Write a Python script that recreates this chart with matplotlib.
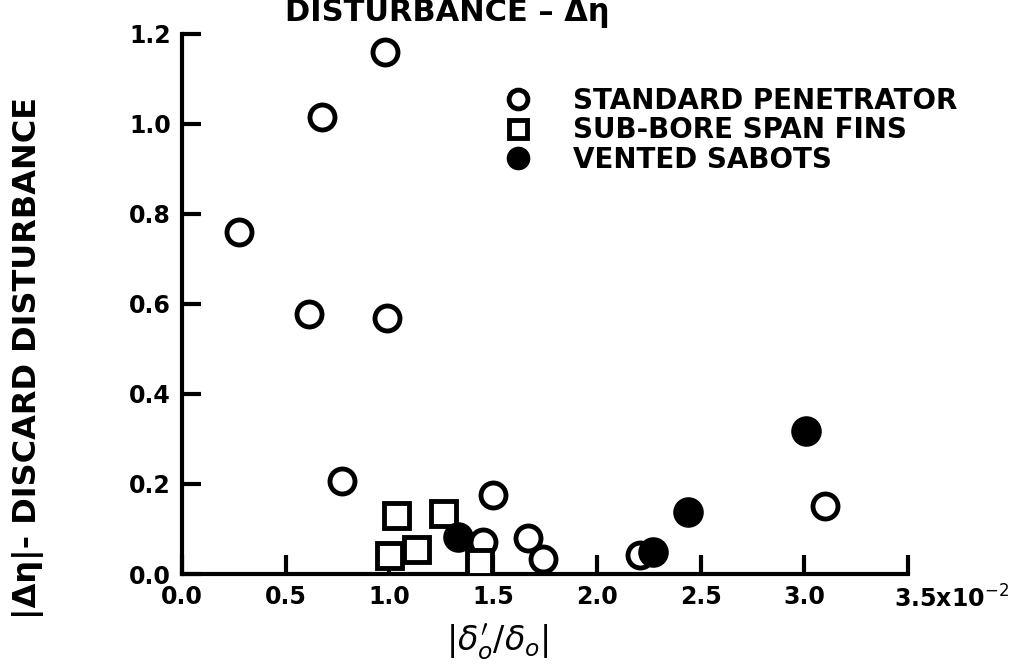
import matplotlib
matplotlib.use("Agg")
import matplotlib.pyplot as plt
from matplotlib.transforms import ScaledTranslation

# |delta0'/delta0| (x 1e-2) vs |delta eta| discard disturbance
std_x = [0.98, 0.675, 0.275, 0.61, 0.99, 0.77, 1.50, 1.45, 1.67, 1.74, 2.21, 3.10]
std_y = [1.16, 1.016, 0.76, 0.578, 0.569, 0.207, 0.176, 0.071, 0.080, 0.033, 0.042, 0.151]

fin_x = [1.03, 1.26, 1.00, 1.13, 1.43]
fin_y = [0.131, 0.136, 0.042, 0.056, 0.027]

vent_x = [1.33, 2.27, 2.44, 3.01]
vent_y = [0.082, 0.049, 0.138, 0.318]

xticks = [0.0, 0.5, 1.0, 1.5, 2.0, 2.5, 3.0, 3.5]
xtick_labels = ["0.0", "0.5", "1.0", "1.5", "2.0", "2.5", "3.0", r"3.5x10$^{-2}$"]
yticks = [0.0, 0.2, 0.4, 0.6, 0.8, 1.0, 1.2]
ytick_labels = ["0.0", "0.2", "0.4", "0.6", "0.8", "1.0", "1.2"]

plt.rcParams["font.family"] = ["DejaVu Sans"]
plt.rcParams["mathtext.fontset"] = "dejavusans"

fig = plt.figure(figsize=(10.25, 6.68), dpi=100)
ax = fig.add_axes([182 / 1025, 1 - 574 / 668, 726 / 1025, 540 / 668])

ms = 18
ax.plot(std_x, std_y, "o", ms=ms, mfc="white", mec="black", mew=3.5,
        ls="none", label="STANDARD PENETRATOR", zorder=3)
ax.plot(fin_x, fin_y, "s", ms=ms, mfc="white", mec="black", mew=3.5,
        ls="none", label="SUB-BORE SPAN FINS", zorder=3)
ax.plot(vent_x, vent_y, "o", ms=ms + 2, mfc="black", mec="black", mew=2,
        ls="none", label="VENTED SABOTS", zorder=4)

ax.set_xlim(0, 3.5)
ax.set_ylim(0, 1.2)
ax.set_xticks(xticks)
ax.set_xticklabels(xtick_labels)
ax.set_yticks(yticks)
ax.set_yticklabels(ytick_labels)
ax.tick_params(direction="in", length=14, width=3, labelsize=17, pad=8)
for lbl in ax.get_xticklabels() + ax.get_yticklabels():
    lbl.set_fontweight("bold")
# the last x label carries the x10^-2 factor, starts just left of its tick
last = ax.get_xticklabels()[-1]
last.set_horizontalalignment("left")
last.set_transform(last.get_transform() + ScaledTranslation(-0.14, 0, fig.dpi_scale_trans))

for side in ["top", "right"]:
    ax.spines[side].set_visible(False)
for side in ["left", "bottom"]:
    ax.spines[side].set_linewidth(3)
ax.patch.set_alpha(0)

ax.set_xlabel(r"$|\delta_o'/\delta_o|$", fontsize=24, labelpad=2)
ax.xaxis.set_label_coords((497 - 182) / 726, -0.09)
ax.set_ylabel("|Δη|- DISCARD DISTURBANCE", fontsize=23, fontweight="bold")
ax.yaxis.set_label_coords((44 - 182) / 726, 0.40)

fig.text(285 / 1025, 1 - 13 / 668, "DISTURBANCE – Δη",
         fontsize=22, fontweight="bold", ha="left", va="center")

leg = ax.legend(loc="upper left", bbox_to_anchor=(0.39, 0.948), frameon=False,
                fontsize=20, handletextpad=1.0, labelspacing=0.05,
                markerscale=0.75)
for t in leg.get_texts():
    t.set_fontweight("bold")

fig.savefig("out.png", dpi=100)
